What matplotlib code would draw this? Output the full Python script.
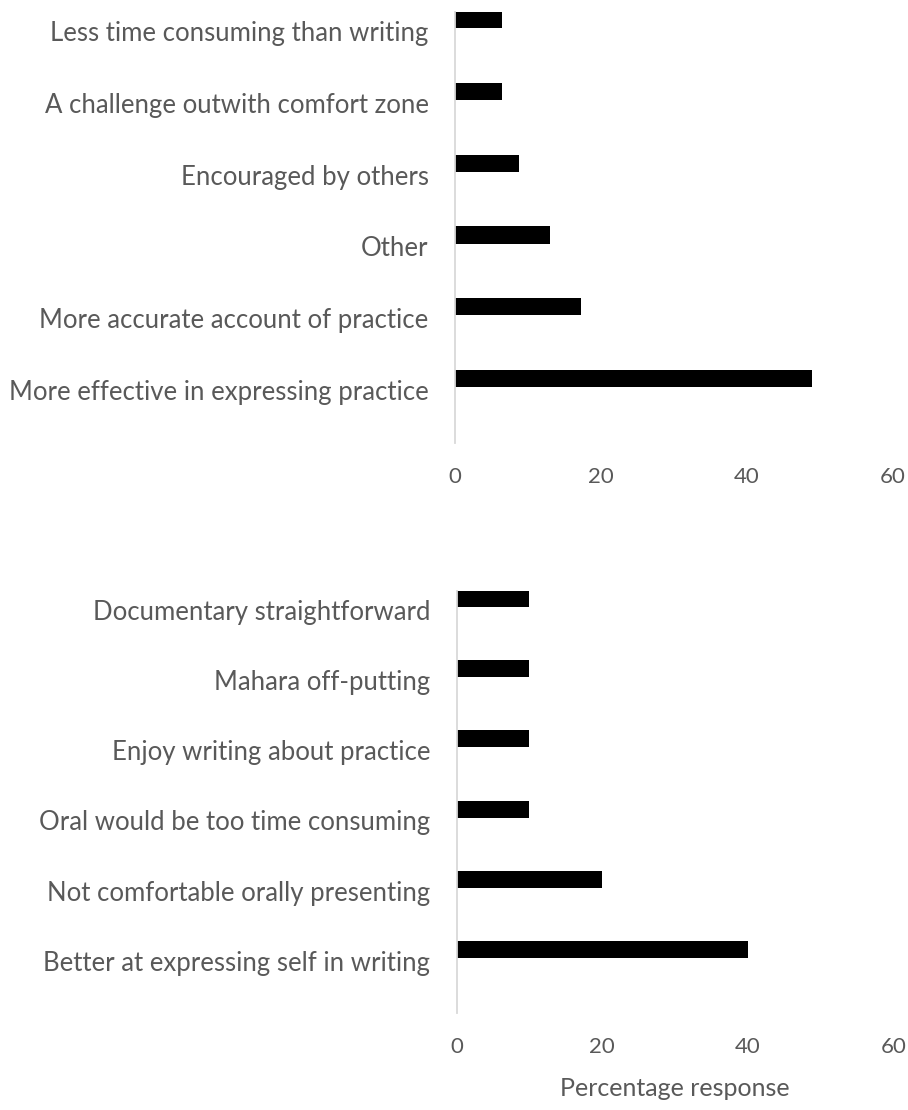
import matplotlib
matplotlib.use("Agg")
import matplotlib.pyplot as plt

# top chart: reasons for choosing oral
oral_reasons = [
    "More effective in expressing practice",
    "More accurate account of practice",
    "Other",
    "Encouraged by others",
    "A challenge outwith comfort zone",
    "Less time consuming than writing",
]
oral_pct = [48.9, 17.2, 13.0, 8.7, 6.5, 6.5]

# bottom chart: reasons for choosing written
written_reasons = [
    "Better at expressing self in writing",
    "Not comfortable orally presenting",
    "Oral would be too time consuming",
    "Enjoy writing about practice",
    "Mahara off-putting",
    "Documentary straightforward",
]
written_pct = [40, 20, 10, 10, 10, 10]

x_ticks = [0, 20, 40, 60]

plt.rcParams["font.family"] = ["Lato", "DejaVu Sans"]
text_col = "#595959"

fig = plt.figure(figsize=(9.08, 11.10), dpi=100)
ax1 = fig.add_axes([0.5011, 0.6009, 0.4824, 0.3883])
ax2 = fig.add_axes([0.5030, 0.0874, 0.4808, 0.3805])


def draw(ax, labels, vals):
    pos = list(range(len(labels)))
    ax.barh([p + 0.16 for p in pos], vals, height=0.24, color="black")
    ax.set_yticks(pos)
    ax.set_yticklabels(labels)
    ax.set_ylim(-0.74, 5.27)
    ax.set_xlim(0, 60)
    ax.set_xticks(x_ticks)
    for s in ["top", "right", "bottom"]:
        ax.spines[s].set_visible(False)
    ax.spines["left"].set_color("#d9d9d9")
    ax.spines["left"].set_linewidth(1.3)
    ax.tick_params(axis="y", length=0, pad=19, labelsize=18.5, labelcolor=text_col)
    ax.tick_params(axis="x", length=0, pad=17, labelsize=16, labelcolor=text_col)


draw(ax1, oral_reasons, oral_pct)
draw(ax2, written_reasons, written_pct)
ax2.set_xlabel("Percentage response", fontsize=18, color=text_col, labelpad=15)

fig.savefig("out.png", dpi=100)
